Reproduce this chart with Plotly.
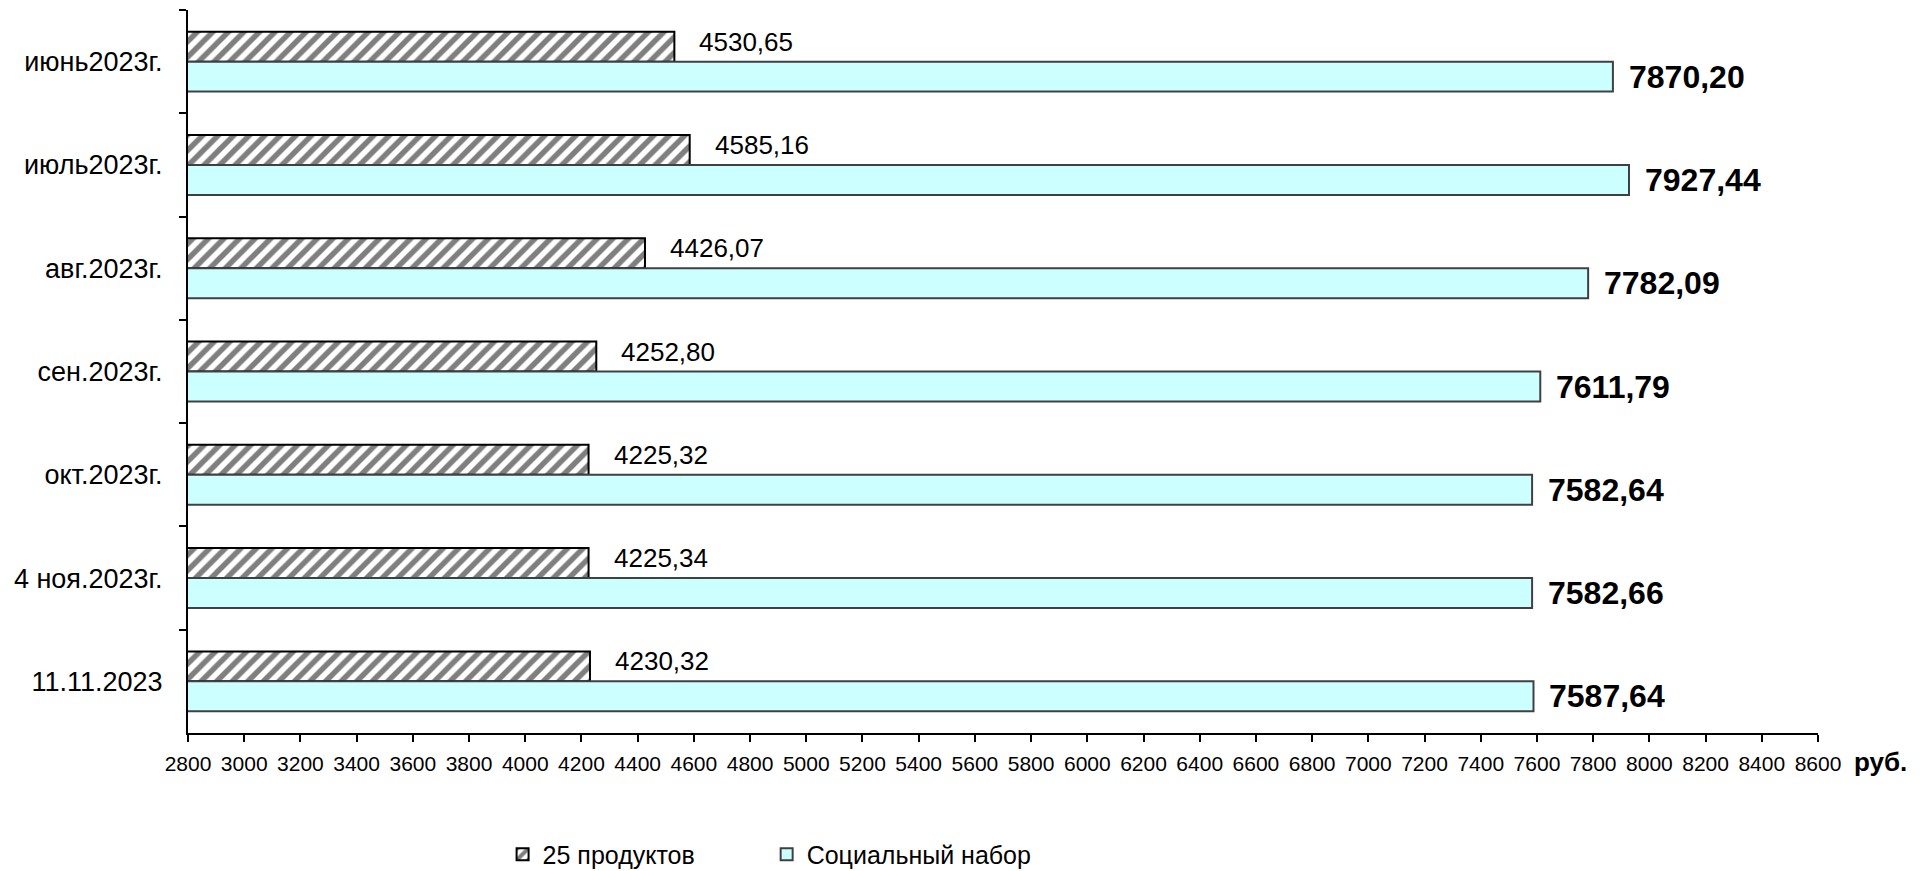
import plotly.graph_objects as go

categories = ["июнь2023г.", "июль2023г.", "авг.2023г.", "сен.2023г.", "окт.2023г.", "4 ноя.2023г.", "11.11.2023"]
products25 = [4530.65, 4585.16, 4426.07, 4252.80, 4225.32, 4225.34, 4230.32]
social_set = [7870.20, 7927.44, 7782.09, 7611.79, 7582.64, 7582.66, 7587.64]
series_names = ["25 продуктов", "Социальный набор"]
x_ticks = list(range(2800, 8601, 200))

FONT = "Liberation Sans, Arial, sans-serif"

def fmt(v):
    return f"{v:.2f}".replace(".", ",")

fig = go.Figure()
fig.add_trace(go.Bar(
    y=categories, x=products25, orientation="h", name=series_names[0], legend="legend",
    marker=dict(color="white", line=dict(color="black", width=2),
                pattern=dict(shape="/", fgcolor="black", bgcolor="white", size=11, solidity=0.5)),
))
fig.add_trace(go.Bar(
    y=categories, x=social_set, orientation="h", name=series_names[1], legend="legend2",
    marker=dict(color="#CCFFFF", line=dict(color="#404040", width=2)),
))

annotations = []
for c, v in zip(categories, products25):
    annotations.append(dict(x=v, y=c, xref="x", yref="y", text=fmt(v), showarrow=False,
                            xanchor="left", yanchor="middle", xshift=23, yshift=20,
                            font=dict(family=FONT, size=26, color="black")))
for c, v in zip(categories, social_set):
    annotations.append(dict(x=v, y=c, xref="x", yref="y", text="<b>" + fmt(v) + "</b>", showarrow=False,
                            xanchor="left", yanchor="middle", xshift=14, yshift=-15,
                            font=dict(family=FONT, size=32, color="black")))
annotations.append(dict(x=1.0, y=0, xref="paper", yref="paper", text="<b>руб.</b>", showarrow=False,
                        xanchor="left", yanchor="middle", xshift=34, yshift=-29,
                        font=dict(family=FONT, size=26, color="black")))

legend_font = dict(family=FONT, size=25, color="black")
fig.update_layout(
    width=1928, height=871,
    margin=dict(l=180, r=118, t=2, b=136),
    paper_bgcolor="white", plot_bgcolor="white",
    barmode="group", bargap=0.42, bargroupgap=0,
    font=dict(family=FONT, color="black"),
    annotations=annotations,
    showlegend=True,
    legend=dict(orientation="h", x=0.193, y=-0.168, xanchor="left", yanchor="middle",
                font=legend_font, itemwidth=30),
    legend2=dict(orientation="h", x=0.355, y=-0.168, xanchor="left", yanchor="middle",
                 font=legend_font, itemwidth=30),
    xaxis=dict(range=[2800, 8600], tickvals=x_ticks, ticktext=[str(t) for t in x_ticks],
               showgrid=False, zeroline=False, showline=True, linecolor="black", linewidth=2,
               ticks="outside", ticklen=7, tickwidth=2, tickcolor="black",
               tickfont=dict(family=FONT, size=21, color="black"), ticklabelstandoff=4),
    yaxis=dict(autorange="reversed", type="category", showgrid=False, zeroline=False,
               showline=True, linecolor="black", linewidth=2,
               ticks="outside", ticklen=7, tickwidth=2, tickcolor="black", tickson="boundaries",
               tickfont=dict(family=FONT, size=27, color="black"), ticklabelstandoff=18),
)

fig.write_html("out.html")
